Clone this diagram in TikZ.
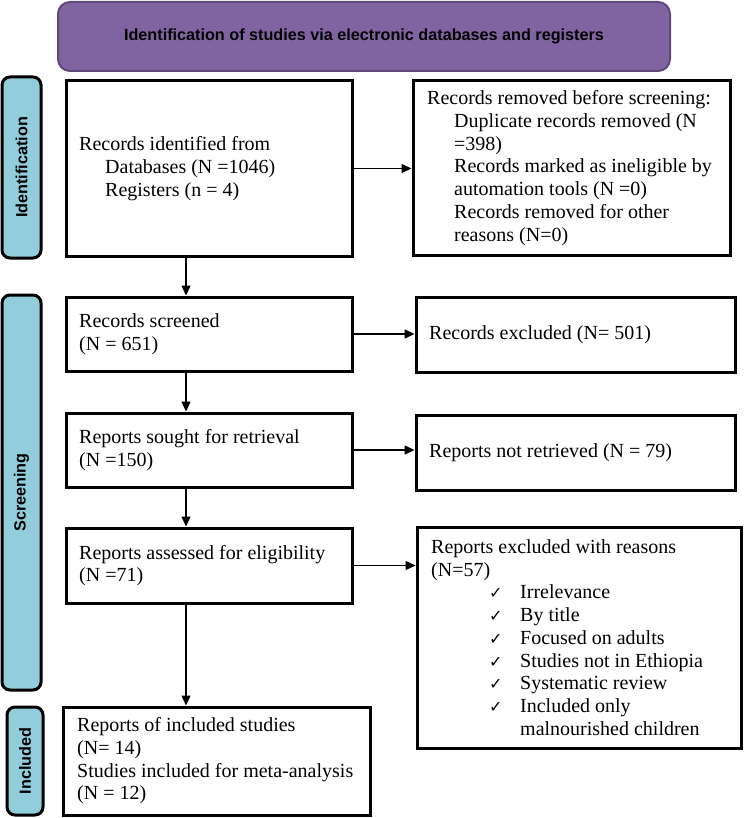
\documentclass[tikz,border=0pt]{standalone}
\usepackage{fontspec}
\setmainfont{Liberation Serif}
\newfontfamily\hdrfont{Liberation Sans}
\newfontfamily\symfont{DejaVu Sans}
\usetikzlibrary{arrows.meta}
\definecolor{hdrfill}{HTML}{8064A2}
\definecolor{hdrline}{HTML}{5F497A}
\definecolor{sidefill}{HTML}{92CDDC}
\newcommand{\ck}{\makebox[31pt][l]{\fontsize{16}{16}\symfont ✓}}
\begin{document}
\begin{tikzpicture}[x=1pt,y=-1pt,
  box/.style={draw, line width=3pt, rectangle, inner sep=0pt},
  txt/.style={anchor=west, align=left, inner sep=0pt, font=\fontsize{20}{22.7}\selectfont},
  side/.style={draw, line width=3pt, fill=sidefill, rounded corners=8pt, rotate=90,
    font=\hdrfont\bfseries\fontsize{16.2}{18}\selectfont, inner sep=0pt},
  hdr/.style={draw=hdrline, line width=2pt, fill=hdrfill, rounded corners=12pt,
    font=\hdrfont\bfseries\fontsize{16.2}{18}\selectfont, inner sep=0pt},
  arr/.style={line width=1.4pt, -{Triangle[length=10pt,width=9pt]}}
]
\useasboundingbox (0,0) rectangle (744,818);

% header
\node[hdr, minimum width=612pt, minimum height=69pt] (head) at (364,36.5)
  {Identification of studies via electronic databases and registers};

% side labels
\node[side, minimum width=181pt, minimum height=39pt] (sidA) at (21.5,167.5) {Identification};
\node[side, minimum width=395pt, minimum height=39pt] (sidB) at (21.5,492.5) {Screening};
\node[side, minimum width=108pt, minimum height=36pt] (sidC) at (25,761) {Included};

% left column
\node[box, minimum width=286pt, minimum height=175pt] (b1) at (209,168.5) {};
\node[box, minimum width=286pt, minimum height=74pt] (scr) at (209,334) {};
\node[box, minimum width=286pt, minimum height=74pt] (sou) at (209,450) {};
\node[box, minimum width=286pt, minimum height=75pt] (ass) at (209,565.5) {};
\node[box, minimum width=307pt, minimum height=108pt] (inc) at (216.5,761) {};

% right column
\node[box, minimum width=317pt, minimum height=174pt] (rem) at (571.5,168) {};
\node[box, minimum width=319pt, minimum height=75pt] (exc) at (575.5,334.5) {};
\node[box, minimum width=319pt, minimum height=75pt] (nre) at (575.5,452.5) {};
\node[box, minimum width=324pt, minimum height=221pt] (rea) at (579,637.5) {};

% texts
\node[txt] (tb1) at ([xshift=14.5pt]b1.west)
  {Records identified from\\
   \hspace*{26pt}Databases (N =1046)\\
   \hspace*{26pt}Registers (n = 4)};
\node[txt] (tscr) at ([xshift=14.5pt]scr.west) {Records screened\\(N = 651)};
\node[txt] (tsou) at ([xshift=14.5pt]sou.west) {Reports sought for retrieval\\(N =150)};
\node[txt] (tass) at ([xshift=14.5pt]ass.west) {Reports assessed for eligibility\\(N =71)};
\node[txt] (tinc) at ([xshift=15.5pt]inc.west)
  {Reports of included studies\\(N= 14)\\Studies included for meta-analysis\\(N = 12)};

\node[txt] (trem) at ([xshift=15.5pt]rem.west)
  {Records removed before screening:\\
   \hspace*{27pt}Duplicate records removed (N\\
   \hspace*{27pt}=398)\\
   \hspace*{27pt}Records marked as ineligible by\\
   \hspace*{27pt}automation tools (N =0)\\
   \hspace*{27pt}Records removed for other\\
   \hspace*{27pt}reasons (N=0)};
\node[txt] (texc) at ([xshift=14.5pt]exc.west) {Records excluded (N= 501)};
\node[txt] (tnre) at ([xshift=14.5pt]nre.west) {Reports not retrieved (N = 79)};
\node[txt] (trea) at ([xshift=15.5pt]rea.west)
  {Reports excluded with reasons\\
   (N=57)\\
   \hspace*{58pt}\ck Irrelevance\\
   \hspace*{58pt}\ck By title\\
   \hspace*{58pt}\ck Focused on adults\\
   \hspace*{58pt}\ck Studies not in Ethiopia\\
   \hspace*{58pt}\ck Systematic review\\
   \hspace*{58pt}\ck Included only\\
   \hspace*{89pt}malnourished children};

% connectors
\coordinate (ax) at (186,0);
\draw[arr] (b1.south -| ax) -- (scr.north -| ax);
\draw[arr] (scr.south -| ax) -- (sou.north -| ax);
\draw[arr] (sou.south -| ax) -- (ass.north -| ax);
\draw[arr] (ass.south -| ax) -- (inc.north -| ax);
\draw[arr] (b1.east) -- (b1.east -| rem.west);
\draw[arr] (scr.east) -- (scr.east -| exc.west);
\draw[arr] (sou.east) -- (sou.east -| nre.west);
\draw[arr] (ass.east) -- (ass.east -| rea.west);
\end{tikzpicture}
\end{document}
